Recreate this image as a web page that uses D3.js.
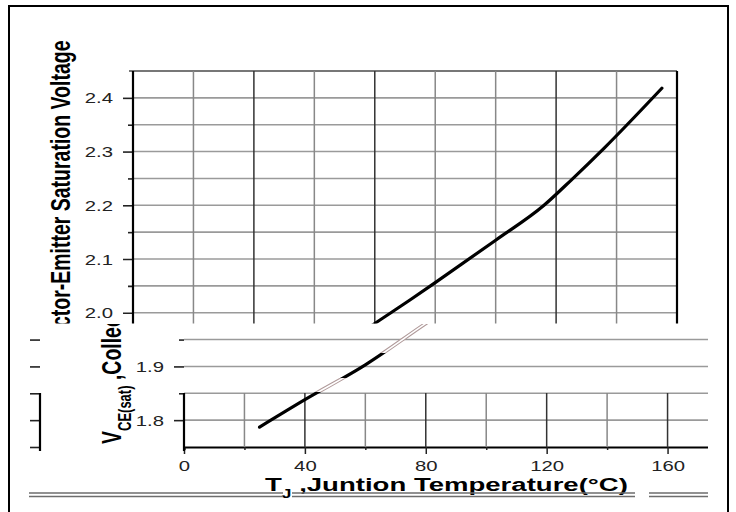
<!DOCTYPE html>
<html>
<head>
<meta charset="utf-8">
<script src="https://cdn.jsdelivr.net/npm/d3@7"></script>
<style>
  html, body { margin: 0; padding: 0; background: #fff; }
  svg { display: block; }
  text { font-family: "Liberation Sans", Arial, sans-serif; white-space: pre; }
</style>
</head>
<body>
<svg id="chart" width="736" height="512"></svg>
<script>
// ---- data ----
const temps = [25, 40, 60, 80, 92, 100, 120, 136, 145, 156, 175];
const vce   = [1.787, 1.838, 1.903, 1.98, 2.025, 2.056, 2.135, 2.2, 2.247, 2.307, 2.418];
const yTickLabels = [1.8, 1.9, 2.0, 2.1, 2.2, 2.3, 2.4];
const xTickLabels = [0, 40, 80, 120, 160];
const yLabelMain = "V";
const yLabelSub = "CE(sat)";
const yLabelRest = " ,Collector-Emitter Saturation Voltage";
const xLabelMain = "T";
const xLabelSub = "J";
const xLabelRest = " ,Juntion Temperature(°C)";

const W = 736, H = 512;
const SX = 1.45; // horizontal stretch of glyphs in the picture
const svg = d3.select("#chart");
svg.append("rect").attr("width", W).attr("height", H).attr("fill", "#fff");

const defs = svg.append("defs");
function clip(id, rects) {
  const c = defs.append("clipPath").attr("id", id);
  rects.forEach(r => c.append("rect").attr("x", r[0]).attr("y", r[1]).attr("width", r[2]).attr("height", r[3]));
}
clip("cTop", [[0, 0, W, 323.5]]);
clip("cBot", [[43, 324, 665, 188]]);
clip("cBotV", [[43, 393, 665, 119]]);
clip("cBotSolid", [[43, 353, 665, 25], [43, 392, 665, 120]]);
clip("cBotGhost", [[43, 324, 665, 29], [43, 378, 665, 14]]);
clip("cLeftTicks", [[25, 324, 15, 131]]);
clip("cLeftAxis", [[25, 393, 20, 62]]);

const y = d3.scaleLinear().domain([1.75, 2.45]).range([447, 71]);
const data = temps.map((t, i) => ({ t, v: vce[i] }));
const minorY = d3.range(1.80, 2.449, 0.05);
const minorX = d3.range(20, 179, 20);

function drawChart(left, clips, darkLines) {
  const x = d3.scaleLinear().domain([0, 180]).range([left, left + 544]);
  const gMain = svg.append("g").attr("clip-path", `url(#${clips.main})`);
  const gVert = svg.append("g").attr("clip-path", `url(#${clips.vert})`);

  // horizontal grid
  gMain.selectAll(".hg").data(minorY).join("line")
    .attr("x1", x(0)).attr("x2", x(180))
    .attr("y1", d => y(d)).attr("y2", d => y(d))
    .attr("stroke", "#9a9a9a").attr("stroke-width", 1.6);
  // top border
  gMain.append("line").attr("x1", x(0) - 4).attr("x2", x(180))
    .attr("y1", y(2.45)).attr("y2", y(2.45))
    .attr("stroke", "#777").attr("stroke-width", 1.8);

  // vertical grid
  gVert.selectAll(".vg").data(minorX).join("line")
    .attr("x1", d => x(d)).attr("x2", d => x(d))
    .attr("y1", y(1.75)).attr("y2", y(2.45))
    .attr("stroke", d => darkLines.includes(d) ? "#333" : "#888").attr("stroke-width", 1.5);
  // right border
  gVert.append("line").attr("x1", x(180)).attr("x2", x(180))
    .attr("y1", y(1.75)).attr("y2", y(2.45))
    .attr("stroke", "#000").attr("stroke-width", 2.2);
  // left axis line
  gVert.append("line").attr("x1", x(0)).attr("x2", x(0))
    .attr("y1", y(1.75) + 4).attr("y2", y(2.45))
    .attr("stroke", "#000").attr("stroke-width", 2.2);

  // bottom axis
  const xAxis = d3.axisBottom(x).tickValues(minorX.concat([0])).tickSize(3).tickFormat("");
  const gx = gMain.append("g").attr("transform", `translate(0,${y(1.75)})`).call(xAxis);
  gx.select(".domain").attr("stroke", "#000").attr("stroke-width", 2.2);
  gx.selectAll(".tick line").attr("stroke", "#222").attr("stroke-width", 1.5)
    .attr("y2", d => d % 40 === 0 ? 7 : 3);
  gx.selectAll(".tick").filter(d => xTickLabels.includes(d)).append("text")
    .attr("text-anchor", "middle").attr("fill", "#222").attr("font-size", 14)
    .attr("transform", `translate(0,24) scale(${SX},1)`)
    .text(d => d3.format("d")(d));

  // left axis ticks + labels
  const yAxis = d3.axisLeft(y).tickValues(minorY).tickSize(10).tickFormat("");
  const gy = gMain.append("g").attr("transform", `translate(${x(0)},0)`).call(yAxis);
  gy.select(".domain").remove();
  gy.selectAll(".tick line").attr("stroke", "#222").attr("stroke-width", 1.6)
    .attr("x2", d => Math.abs(d * 10 - Math.round(d * 10)) < 1e-6 ? -10 : -5);
  gy.selectAll(".tick").filter(d => yTickLabels.some(v => Math.abs(v - d) < 1e-6)).append("text")
    .attr("text-anchor", "end").attr("fill", "#222").attr("font-size", 14)
    .attr("transform", `translate(-20,5) scale(${SX},1)`)
    .text(d => d3.format(".1f")(d));

  // curve
  const line = d3.line().x(d => x(d.t)).y(d => y(d.v)).curve(d3.curveMonotoneX);
  const gSolid = svg.append("g").attr("clip-path", `url(#${clips.solid})`);
  gSolid.append("path").datum(data).attr("d", line)
    .attr("fill", "none").attr("stroke", "#000").attr("stroke-width", 3.2)
    .attr("stroke-linecap", "round");
  if (clips.ghost) {
    const gGhost = svg.append("g").attr("clip-path", `url(#${clips.ghost})`);
    gGhost.append("path").datum(data).attr("d", line)
      .attr("fill", "none").attr("stroke", "#b09a9a").attr("stroke-width", 3.6);
    gGhost.append("path").datum(data).attr("d", line)
      .attr("fill", "none").attr("stroke", "#fff").attr("stroke-width", 1.6);
  }

  // y label (rotated, reads bottom to top)
  const yl = gMain.append("text")
    .attr("transform", `translate(${left - 63},444) scale(${SX},1) rotate(-90)`)
    .attr("font-weight", "bold").attr("font-size", 19.5).attr("fill", "#000");
  yl.append("tspan").text(yLabelMain);
  yl.append("tspan").attr("font-size", 13).attr("dy", 7).text(yLabelSub);
  yl.append("tspan").attr("dy", -7).text(yLabelRest);

  // x label
  const xl = gMain.append("text")
    .attr("transform", `translate(${left + 81},491) scale(${SX},1)`)
    .attr("font-weight", "bold").attr("font-size", 19).attr("fill", "#000");
  xl.append("tspan").text(xLabelMain);
  xl.append("tspan").attr("font-size", 12).attr("dy", 7).text(xLabelSub);
  xl.append("tspan").attr("dy", -7).text(xLabelRest);
}

// upper (original) part and lower (shifted) part of the picture
drawChart(133, { main: "cTop", vert: "cTop", solid: "cTop", ghost: null }, [40, 80, 140]);
drawChart(184, { main: "cBot", vert: "cBotV", solid: "cBotSolid", ghost: "cBotGhost" }, [40, 80, 120, 160]);

// stray left copy of the value axis
const gl = svg.append("g").attr("clip-path", "url(#cLeftTicks)");
gl.append("g").attr("transform", "translate(40,0)")
  .call(d3.axisLeft(y).tickValues(minorY.concat([1.75])).tickSize(10).tickFormat(""))
  .call(g => g.select(".domain").remove())
  .selectAll(".tick line").attr("stroke", "#222").attr("stroke-width", 1.6);
svg.append("g").attr("clip-path", "url(#cLeftAxis)")
  .append("line").attr("x1", 40).attr("x2", 40).attr("y1", y(1.75) + 4).attr("y2", y(2.45))
  .attr("stroke", "#000").attr("stroke-width", 2.2);

// double underline below the axis title
const underline = [[29, 283], [292, 635], [649, 708]];
[493, 496.5].forEach(yy => {
  svg.append("g").selectAll("line").data(underline).join("line")
    .attr("x1", d => d[0]).attr("x2", d => d[1]).attr("y1", yy).attr("y2", yy)
    .attr("stroke", "#6d6d6d").attr("stroke-width", 1.6);
});

// outer frame
svg.append("rect").attr("x", 9).attr("y", 6).attr("width", 719).attr("height", 520)
  .attr("fill", "none").attr("stroke", "#000").attr("stroke-width", 2);
</script>
</body>
</html>
